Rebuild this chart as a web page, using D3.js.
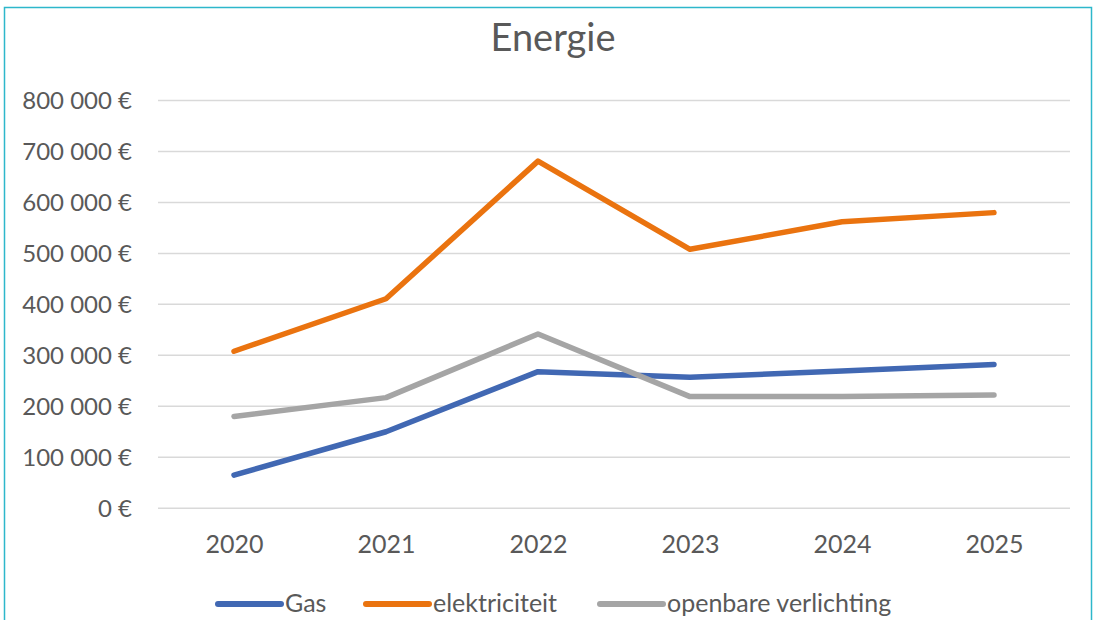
<!DOCTYPE html>
<html>
<head>
<meta charset="utf-8">
<script src="https://cdn.jsdelivr.net/npm/d3@7"></script>
<style>
  body { margin: 0; background: #fff; }
  text { font-family: Lato, "Open Sans", sans-serif; fill: #595959; }
</style>
</head>
<body>
<div id="chart"></div>
<script>
const years = ["2020", "2021", "2022", "2023", "2024", "2025"];
const gas = [64000, 149000, 267000, 256000, 268000, 281000];
const elektriciteit = [307000, 410000, 680000, 507000, 561000, 579000];
const verlichting = [179000, 216000, 341000, 218000, 218000, 221000];
const yTicks = [0, 100000, 200000, 300000, 400000, 500000, 600000, 700000, 800000];

const series = [
    { name: "Gas", values: gas, color: "#4168B3" },
    { name: "elektriciteit", values: elektriciteit, color: "#EA730F" },
    { name: "openbare verlichting", values: verlichting, color: "#A5A5A5" }
];

const width = 1097, height = 620;
const margin = { left: 158, right: 27, top: 100, bottom: 113 };

let svg = d3.select("#chart")
    .append("svg")
    .attr("width", width)
    .attr("height", height);

// chart border
svg.append("rect")
    .attr("x", 4.5).attr("y", 7.5)
    .attr("width", 1087).attr("height", 640)
    .attr("fill", "none")
    .attr("stroke", "#2DB7CB")
    .attr("stroke-width", 1.5);

svg.append("text")
    .attr("x", 553).attr("y", 51)
    .style("text-anchor", "middle")
    .style("font-size", "38px")
    .text("Energie");

let x = d3.scalePoint()
    .domain(years)
    .range([margin.left, width - margin.right])
    .padding(0.5);

let y = d3.scaleLinear()
    .domain([0, 800000])
    .range([height - margin.bottom + 0.7, margin.top]);

const fmt = d => (d === 0 ? "0" : d3.format(",")(d).replace(/,/g, " ")) + " €";

// gridlines + y labels
let yAxis = svg.append("g")
    .attr("transform", `translate(${margin.left},0)`)
    .call(d3.axisLeft(y).tickValues(yTicks)
        .tickSize(-(width - margin.left - margin.right))
        .tickPadding(26)
        .tickFormat(fmt));
yAxis.select(".domain").remove();
yAxis.selectAll("line").attr("stroke", "#D9D9D9").attr("stroke-width", 1.5);
yAxis.selectAll("text").style("font-size", "24px").attr("fill", "#595959").attr("dy", "0.35em");

let xAxis = svg.append("g")
    .attr("transform", `translate(0,${y(0)})`)
    .call(d3.axisBottom(x).tickSize(0).tickPadding(0));
xAxis.select(".domain").remove();
xAxis.selectAll("text").style("font-size", "25px").attr("fill", "#595959")
    .attr("dy", null).attr("y", 45);

let line = d3.line()
    .x((d, i) => x(years[i]))
    .y(d => y(d));

svg.selectAll("path.series")
    .data(series)
    .enter()
    .append("path")
    .attr("class", "series")
    .attr("d", d => line(d.values))
    .attr("fill", "none")
    .attr("stroke", d => d.color)
    .attr("stroke-width", 5.5)
    .attr("stroke-linecap", "round")
    .attr("stroke-linejoin", "round");

// legend
const legendX = [218, 366, 600];
let legend = svg.selectAll("g.legend")
    .data(series)
    .enter()
    .append("g")
    .attr("class", "legend")
    .attr("transform", (d, i) => `translate(${legendX[i]},604)`);

legend.append("line")
    .attr("x1", 0).attr("x2", 63)
    .attr("stroke", d => d.color)
    .attr("stroke-width", 6)
    .attr("stroke-linecap", "round");

legend.append("text")
    .attr("x", 67)
    .attr("y", 8)
    .style("font-size", "25px")
    .text(d => d.name);
</script>
</body>
</html>
